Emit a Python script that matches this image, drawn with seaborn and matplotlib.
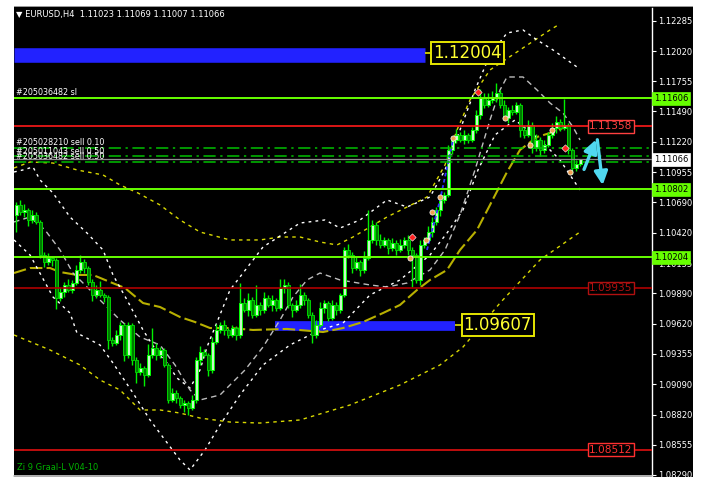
import numpy as np
import pandas as pd
import matplotlib
matplotlib.use("Agg")
import matplotlib.pyplot as plt
import seaborn as sns
from matplotlib.patches import Rectangle
from matplotlib.transforms import blended_transform_factory

sns.set_style("dark")
plt.rcParams["font.family"] = ["DejaVu Sans"]

# ---------------- data ----------------
first_open = 1.10578
closes = [1.10666, 1.10604, 1.10622, 1.10534, 1.10578, 1.10516, 1.10226, 1.10164, 1.10199, 1.10182,
          1.09847, 1.09900, 1.09962, 1.09918, 1.09979, 1.10094, 1.10164, 1.10111, 1.09988, 1.09874,
          1.09918, 1.09874, 1.09856, 1.09478, 1.09451, 1.09522, 1.09610, 1.09346, 1.09610, 1.09302,
          1.09196, 1.09231, 1.09170, 1.09346, 1.09407, 1.09346, 1.09390, 1.09258, 1.08950, 1.09011,
          1.08967, 1.08906, 1.08923, 1.08879, 1.08950, 1.09302, 1.09372, 1.09346, 1.09214, 1.09460,
          1.09566, 1.09610, 1.09566, 1.09522, 1.09583, 1.09522, 1.09803, 1.09742, 1.09830, 1.09698,
          1.09786, 1.09742, 1.09847, 1.09786, 1.09830, 1.09759, 1.09935, 1.09962, 1.09786, 1.09742,
          1.09786, 1.09874, 1.09830, 1.09698, 1.09522, 1.09610, 1.09759, 1.09803, 1.09671, 1.09786,
          1.09742, 1.09874, 1.10270, 1.10226, 1.10111, 1.10164, 1.10094, 1.10199, 1.10358, 1.10490,
          1.10358, 1.10314, 1.10358, 1.10287, 1.10331, 1.10270, 1.10314, 1.10358, 1.10270, 1.10226,
          1.10006, 1.10314, 1.10358, 1.10428, 1.10516, 1.10622, 1.10710, 1.10754, 1.11150, 1.11238,
          1.11282, 1.11238, 1.11282, 1.11238, 1.11326, 1.11458, 1.11607, 1.11546, 1.11590, 1.11616,
          1.11651, 1.11546, 1.11431, 1.11502, 1.11484, 1.11546, 1.11326, 1.11282, 1.11370, 1.11167,
          1.11238, 1.11150, 1.11194, 1.11282, 1.11343, 1.11396, 1.11343, 1.11370, 1.11150, 1.10991,
          1.11023, 1.11066]
upper_wick_pips = [3, 4, 5, 2, 4, 3, 2, 3, 4, 2,
                   2, 4, 3, 5, 3, 4, 6, 3, 2, 3,
                   4, 8, 2, 2, 3, 4, 3, 2, 3, 2,
                   3, 4, 2, 10, 18, 4, 3, 2, 2, 4,
                   3, 2, 3, 2, 4, 3, 5, 3, 2, 4,
                   5, 3, 4, 2, 3, 2, 18, 4, 6, 3,
                   18, 3, 5, 3, 4, 2, 8, 5, 3, 2,
                   4, 10, 3, 2, 3, 4, 5, 3, 2, 4,
                   3, 2, 3, 5, 3, 4, 2, 6, 26, 4,
                   3, 5, 3, 2, 4, 3, 5, 3, 4, 3,
                   2, 4, 3, 5, 4, 3, 2, 3, 4, 3,
                   5, 3, 4, 2, 3, 4, 8, 4, 6, 5,
                   9, 3, 4, 3, 4, 3, 2, 3, 4, 3,
                   5, 3, 4, 3, 4, 5, 3, 23, 2, 2,
                   4, 0.3]
lower_wick_pips = [15, 3, 4, 5, 3, 2, 3, 4, 3, 5,
                   10, 3, 4, 2, 3, 2, 3, 4, 3, 5,
                   3, 2, 4, 8, 3, 2, 4, 5, 3, 4,
                   10, 3, 10, 2, 3, 4, 3, 2, 3, 2,
                   4, 3, 6, 6, 2, 3, 4, 2, 5, 3,
                   2, 3, 4, 3, 2, 4, 3, 2, 5, 3,
                   2, 4, 3, 2, 5, 3, 2, 4, 3, 6,
                   2, 3, 4, 3, 7, 3, 2, 4, 3, 2,
                   4, 3, 2, 3, 4, 2, 5, 3, 2, 3,
                   4, 3, 2, 5, 3, 4, 2, 3, 4, 28,
                   3, 4, 3, 2, 4, 3, 5, 3, 2, 4,
                   3, 2, 4, 3, 2, 3, 4, 3, 2, 3,
                   4, 3, 2, 4, 3, 2, 6, 3, 2, 4,
                   3, 5, 3, 2, 3, 4, 3, 2, 4, 5,
                   3, 1.6]

# indicator curves: (bar index, price)
wup_x = [-0.5, 1.75, 4.25, 6, 9.25, 13.5, 17.75, 21.75, 24.25, 27.75, 31.75, 35.25, 37.75, 40.25, 43.5,
         46, 47.75, 53.5, 61.75, 71, 77.25, 81, 86, 92.75, 97.75, 103.5, 107.25, 111, 114.75, 118.5,
         122.75, 126.75, 130.25, 134.25, 140.25]
wup_y = [1.10956, 1.10974, 1.11000, 1.10886, 1.10771, 1.10560, 1.10419, 1.10270, 1.10050, 1.09830,
         1.09566, 1.09372, 1.09275, 1.09143, 1.09055, 1.09214, 1.09416, 1.09918, 1.10296, 1.10507,
         1.10534, 1.10463, 1.10534, 1.10710, 1.10648, 1.10736, 1.10974, 1.11326, 1.11678, 1.11986,
         1.12179, 1.12206, 1.12118, 1.12030, 1.11880]
wdn_x = [-0.5, 3.5, 9.25, 13.5, 15.25, 21, 24.25, 29.25, 33.5, 37.25, 41, 43.5, 47.25, 51, 56, 61.75,
         68.5, 76, 81.75, 88.5, 96, 103.5, 107.75, 111.75, 115.5, 119.75, 124.75, 131, 136, 141]
wdn_y = [1.10358, 1.10226, 1.09856, 1.09715, 1.09539, 1.09434, 1.09275, 1.09011, 1.08774, 1.08598,
         1.08422, 1.08334, 1.08510, 1.08730, 1.08994, 1.09258, 1.09434, 1.09566, 1.09627, 1.09874,
         1.10006, 1.10226, 1.10419, 1.10622, 1.10974, 1.11282, 1.11414, 1.11238, 1.11062, 1.10798]
wmid_x = [-0.5, 3.5, 7.25, 11, 14.25, 20.25, 26, 31, 36, 39.75, 43.5, 46, 51, 57.25, 61.75, 66, 69.25,
          72.75, 76, 81, 88.5, 92.75, 97.75, 103.5, 107.25, 111, 114.75, 118.5, 121, 122.75, 126.75,
          130.25, 133.5, 136.75, 139.25, 141]
wmid_y = [1.10516, 1.10560, 1.10446, 1.10270, 1.10067, 1.09856, 1.09654, 1.09504, 1.09434, 1.09258,
          1.09038, 1.08950, 1.08994, 1.09214, 1.09416, 1.09654, 1.09856, 1.10006, 1.10067, 1.10006,
          1.09962, 1.09944, 1.09979, 1.10094, 1.10270, 1.10578, 1.10974, 1.11414, 1.11678, 1.11792,
          1.11792, 1.11678, 1.11563, 1.11475, 1.11352, 1.11238]
yup_x = [-0.5, 3.5, 9.25, 15.25, 21.75, 26, 30.5, 36, 41, 46, 53.5, 61, 66, 71, 76, 80.25, 84.25, 88.5,
         92.75, 97.75, 102.75, 107.25, 110.25, 113.5, 118.5, 126, 133.5, 136]
yup_y = [1.10991, 1.11044, 1.11035, 1.10974, 1.10930, 1.10842, 1.10771, 1.10666, 1.10534, 1.10428,
         1.10358, 1.10358, 1.10384, 1.10384, 1.10340, 1.10314, 1.10384, 1.10472, 1.10560, 1.10648,
         1.10736, 1.11018, 1.11326, 1.11590, 1.11854, 1.12030, 1.12206, 1.12259]
ymid_x = [-0.5, 3.5, 8.5, 11, 15.25, 19.25, 23.5, 27.25, 31.75, 36, 41, 44.75, 48.5, 53.5, 59.25, 67.75,
          76.75, 81.75, 86.75, 91.75, 96, 100.25, 103.5, 107.75, 111, 115.25, 118.5, 122.75, 126,
          130.25, 133.5, 136.75]
ymid_y = [1.10067, 1.10111, 1.10111, 1.10076, 1.10050, 1.10050, 1.09988, 1.09935, 1.09803, 1.09768,
          1.09680, 1.09636, 1.09583, 1.09583, 1.09566, 1.09575, 1.09548, 1.09583, 1.09636, 1.09715,
          1.09786, 1.09918, 1.10006, 1.10094, 1.10270, 1.10446, 1.10666, 1.10956, 1.11150, 1.11264,
          1.11299, 1.11343]
ydn_x = [-0.5, 8.5, 16, 21, 26, 31, 36, 41, 46, 53.5, 61, 71, 83.5, 96, 106, 111.75, 121, 131, 141]
ydn_y = [1.09522, 1.09390, 1.09258, 1.09126, 1.09038, 1.08862, 1.08862, 1.08835, 1.08791, 1.08756,
         1.08747, 1.08774, 1.08906, 1.09082, 1.09258, 1.09416, 1.09803, 1.10182, 1.10428]
blue_dot_x = [102.75, 106, 109.25]
blue_dot_y = [1.10270, 1.10710, 1.11238]

signal_x = [109.25, 122.25, 128.5, 134, 138.5, 104, 106, 98.5, 102.5]
signal_y = [1.11255, 1.11431, 1.11194, 1.11326, 1.10956, 1.10604, 1.10736, 1.10199, 1.10358]
red_mark_x = [115.5, 137.25, 99.0]
red_mark_y = [1.11660, 1.11167, 1.10380]

green_levels = [1.11606, 1.10802, 1.10204]
red_levels = [1.11358, 1.09935, 1.08512]
red_level_colors = ["#ff1a1a", "#b00000", "#e01010"]
order_levels = [1.11170, 1.11097, 1.11047]
order_labels = ["#205028210 sell 0.10", "#205011043 sell 0.50", "#205036482 sell 0.50"]
sl_label = "#205036482 sl"
current_price = 1.11066
blue_zone_top = 1.12004
blue_zone_top_end = 102.25
blue_zone_low = 1.09607
blue_zone_low_range = (64.75, 109.75)
tick_values = [1.12285, 1.12020, 1.11755, 1.11490, 1.11220, 1.10955, 1.10690, 1.10420,
               1.10155, 1.09890, 1.09620, 1.09355, 1.09090, 1.08820, 1.08555, 1.08290]
cyan_path_x = [141.75, 145.25, 146.75]
cyan_path_y = [1.10956, 1.11264, 1.10816]

# ---------------- figure ----------------
W, H = 711, 488
fig = plt.figure(figsize=(W / 100, H / 100), dpi=100, facecolor="white")
fig.patches.append(Rectangle((14 / W, 1 - 477 / H), (693 - 14) / W, (477 - 7) / H,
                             transform=fig.transFigure, facecolor="black", edgecolor="none", zorder=-10))
fig.patches.append(Rectangle((14 / W, 1 - 7 / H), (693 - 14) / W, 1.5 / H,
                             transform=fig.transFigure, facecolor="#9a9a9a", edgecolor="none", zorder=-10))
ax = fig.add_axes([14 / W, 1 - 476 / H, (652 - 14) / W, (476 - 8) / H])
ax.set_zorder(1)
ax.set_facecolor("black")
ax.set_xlim(-0.5, 159)
ax.set_ylim(1.08281, 1.12399)
ax.grid(False)

# blue zones (behind candles)
ax.hlines(blue_zone_top - 0.0002, -0.5, blue_zone_top_end, color="#2222ff", lw=10.5, zorder=1)
ax.hlines(blue_zone_low - 0.00005, blue_zone_low_range[0], blue_zone_low_range[1], color="#2222ff", lw=7, zorder=1)

# indicator curves via seaborn
def curve(xs, ys, color, lw, dashes, z):
    sns.lineplot(x=xs, y=ys, ax=ax, color=color, lw=lw, estimator=None, sort=False, zorder=z)
    ax.lines[-1].set_dashes(dashes)

curve(ydn_x, ydn_y, "#d8d800", 1.0, (2.5, 3), 2)
curve(yup_x, yup_y, "#d8d800", 1.0, (2.5, 3), 2)
curve(ymid_x, ymid_y, "#b8b000", 1.5, (6, 2), 2)
curve(wup_x, wup_y, "white", 1.0, (2, 3), 2)
curve(wdn_x, wdn_y, "white", 1.0, (2, 3), 2)
curve(wmid_x, wmid_y, "#bdbdbd", 1.0, (4, 3), 2)
curve(blue_dot_x, blue_dot_y, "#3030ff", 1.3, (2, 1.5), 4)

# candles
idx = np.arange(len(closes))
c = np.array(closes)
o = np.array([first_open] + closes[:-1])
hi = np.maximum(o, c) + np.array(upper_wick_pips) * 0.0001
lo = np.minimum(o, c) - np.array(lower_wick_pips) * 0.0001
ax.vlines(idx, lo, hi, color="#00f000", lw=1, zorder=3)
bull = c >= o
body_h = np.maximum(np.abs(c - o), 0.00003)
ax.bar(idx[bull], body_h[bull], bottom=np.minimum(o, c)[bull], width=0.75,
       color="#c8f7c8", edgecolor="#00ff00", lw=0.7, zorder=3)
ax.bar(idx[~bull], body_h[~bull], bottom=np.minimum(o, c)[~bull], width=0.75,
       color="#007a00", edgecolor="#00d000", lw=0.7, zorder=3)

# signal markers
sns.scatterplot(x=signal_x, y=signal_y, ax=ax, color="#f0a050", s=14, marker="o", edgecolor="white",
                linewidth=0.5, zorder=5, legend=False)
sns.scatterplot(x=red_mark_x, y=red_mark_y, ax=ax, color="#ff2020", s=14, marker="D", edgecolor="white",
                linewidth=0.4, zorder=5, legend=False)

# horizontal levels
for lv in green_levels:
    ax.axhline(lv, color="#66ff00", lw=1.4, zorder=4)
for lv, col in zip(red_levels, red_level_colors):
    ax.axhline(lv, color=col, lw=1.2, zorder=4)
for lv in order_levels:
    ax.axhline(lv, color="#00c000", lw=1.1, dashes=(8, 3, 1.5, 3), zorder=4)
ax.axhline(current_price, color="#8c8c8c", lw=0.9, zorder=4)

# text annotations
ax.text(0, green_levels[0] + 0.00006, sl_label, color="white", fontsize=5.8, va="bottom", ha="left", zorder=6)
for lv, lab, dy in zip(order_levels, order_labels, [0.00004, 0.00002, 0.00004]):
    ax.text(0, lv + dy, lab, color="white", fontsize=5.8, va="bottom", ha="left", zorder=6)

# price label boxes
ax.hlines(blue_zone_top, blue_zone_top_end, 104.2, color="#e6e600", lw=1.2, zorder=5)
ax.text(104.3, blue_zone_top, "1.12004", color="#ffff30", fontsize=12, va="center", ha="left", zorder=6,
        bbox=dict(boxstyle="square,pad=0.12", facecolor="black", edgecolor="#e6e600", lw=1.4))
ax.hlines(blue_zone_low, blue_zone_low_range[1], 111.8, color="#e6e600", lw=1.2, zorder=5)
ax.text(111.9, blue_zone_low, "1.09607", color="#ffff30", fontsize=12, va="center", ha="left", zorder=6,
        bbox=dict(boxstyle="square,pad=0.12", facecolor="black", edgecolor="#e6e600", lw=1.4))
for lv, col in zip(red_levels, ["#ff4040", "#b01010", "#ff3030"]):
    ax.text(143.3, lv, f"{lv:.5f}", color=col, fontsize=7.6, va="center", ha="left", zorder=6,
            bbox=dict(boxstyle="square,pad=0.12", facecolor="black", edgecolor=col, lw=1))

# cyan arrows
ax.annotate("", xy=(cyan_path_x[1], cyan_path_y[1]), xytext=(cyan_path_x[0], cyan_path_y[0]),
            arrowprops=dict(arrowstyle="-|>,head_length=0.8,head_width=0.4", color="#50d8f0", lw=2.4), zorder=6)
ax.annotate("", xy=(cyan_path_x[2], cyan_path_y[2]), xytext=(cyan_path_x[1], cyan_path_y[1]),
            arrowprops=dict(arrowstyle="-|>,head_length=0.8,head_width=0.4", color="#50d8f0", lw=2.4), zorder=6)

# axes styling
for s in ["top", "left"]:
    ax.spines[s].set_visible(False)
ax.spines["right"].set_color("white")
ax.spines["bottom"].set_color("#d0d0d0")
ax.spines["right"].set_linewidth(1)
ax.spines["bottom"].set_linewidth(1.2)
ax.set_xticks([])
ax.yaxis.tick_right()
ax.set_yticks(tick_values)
ax.set_yticklabels([f"{t:.5f}" for t in tick_values])
ax.tick_params(axis="y", colors="white", labelsize=6.0, length=3, width=0.8, pad=1.5)
ax.set_xlabel("")
ax.set_ylabel("")

# highlighted axis labels
tr = blended_transform_factory(ax.transAxes, ax.transData)
for lv in green_levels:
    ax.text(1.003, lv, f"{lv:.5f}", transform=tr, color="black", fontsize=6.0, va="center", ha="left",
            zorder=7, clip_on=False,
            bbox=dict(boxstyle="square,pad=0.25", facecolor="#66ff00", edgecolor="#66ff00", lw=0.5))
ax.text(1.003, current_price, f"{current_price:.5f}", transform=tr, color="black", fontsize=6.0, va="center",
        ha="left", zorder=7, clip_on=False,
        bbox=dict(boxstyle="square,pad=0.25", facecolor="white", edgecolor="white", lw=0.5))

# header and footer text
fig.text(16 / W, 1 - 14 / H, "\u25BC EURUSD,H4  1.11023 1.11069 1.11007 1.11066", color="white", fontsize=6,
         va="center", ha="left")
fig.text(17 / W, 1 - 467 / H, "Zi 9 Graal-L V04-10", color="#00b000", fontsize=6, va="center", ha="left")

fig.savefig("out.png", dpi=100, facecolor="white")
